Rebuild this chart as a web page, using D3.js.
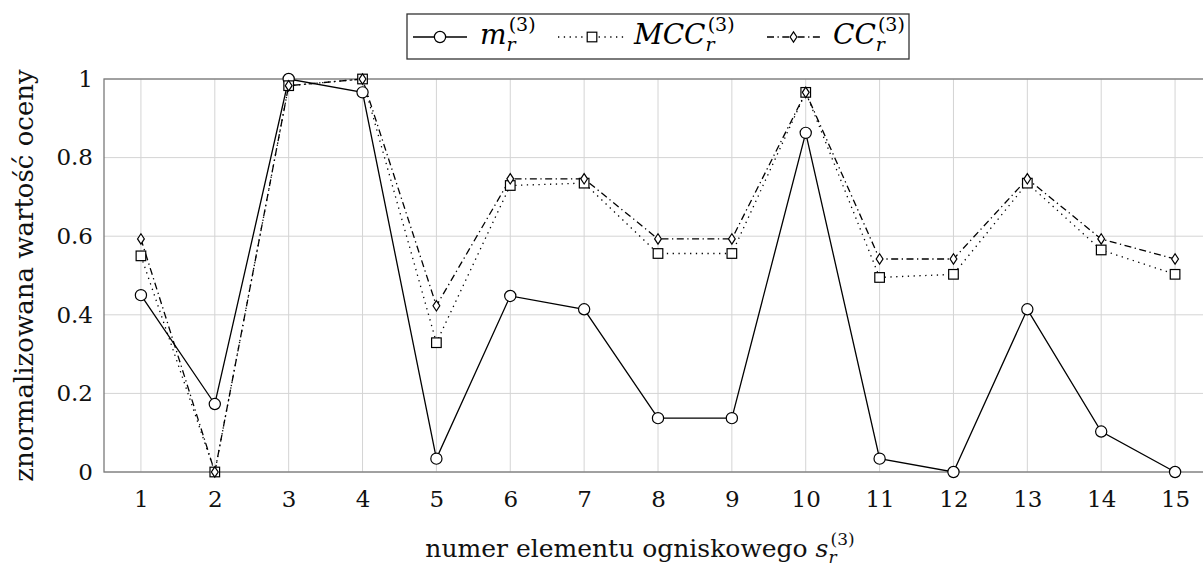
<!DOCTYPE html>
<html>
<head>
<meta charset="utf-8">
<script src="https://cdn.jsdelivr.net/npm/d3@7"></script>
<style>
  body { margin: 0; background: #fff; }
  svg { font-family: "DejaVu Serif", serif; }
</style>
</head>
<body>
<div id="chart"></div>
<script>
const elements = [1, 2, 3, 4, 5, 6, 7, 8, 9, 10, 11, 12, 13, 14, 15];
const mValues   = [0.45, 0.173, 1.0, 0.966, 0.034, 0.448, 0.414, 0.137, 0.137, 0.863, 0.034, 0.0, 0.414, 0.103, 0.0];
const mccValues = [0.55, 0.0, 0.983, 1.0, 0.329, 0.729, 0.735, 0.556, 0.556, 0.966, 0.495, 0.503, 0.735, 0.565, 0.503];
const ccValues  = [0.593, 0.0, 0.983, 1.0, 0.423, 0.746, 0.746, 0.593, 0.593, 0.966, 0.542, 0.542, 0.746, 0.593, 0.542];
const yTicks = [0, 0.2, 0.4, 0.6, 0.8, 1];

const W = 1203, H = 566;
const margin = {top: 79, right: -9, bottom: 94, left: 104};
const width = W - margin.left - margin.right;
const height = H - margin.top - margin.bottom;

const svg = d3.select("#chart").append("svg")
  .attr("width", W).attr("height", H);

const x = d3.scaleLinear().domain([0.5, 15.5]).range([0, width]);
const y = d3.scaleLinear().domain([0, 1]).range([height, 0]);

const g = svg.append("g").attr("transform", "translate(" + margin.left + "," + margin.top + ")");

// grid
g.append("g").selectAll("line").data(elements).join("line")
  .attr("x1", d => x(d)).attr("x2", d => x(d))
  .attr("y1", 0).attr("y2", height)
  .attr("stroke", "#d4d4d4").attr("stroke-width", 1);
g.append("g").selectAll("line").data(yTicks).join("line")
  .attr("x1", 0).attr("x2", width)
  .attr("y1", d => y(d)).attr("y2", d => y(d))
  .attr("stroke", "#d4d4d4").attr("stroke-width", 1);

// frame
g.append("rect").attr("x", 0).attr("y", 0).attr("width", width).attr("height", height)
  .attr("fill", "none").attr("stroke", "#7a7a7a").attr("stroke-width", 1.3);

// axes
const xAxis = d3.axisBottom(x).tickValues(elements).tickSize(0).tickPadding(19).tickFormat(d3.format("d"));
const yAxis = d3.axisLeft(y).tickValues(yTicks).tickSize(0).tickPadding(11).tickFormat(d => d === 0 || d === 1 ? d : d3.format(".1f")(d));

g.append("g").attr("transform", "translate(0," + height + ")").call(xAxis)
  .call(s => s.select(".domain").remove())
  .selectAll("text").attr("font-size", 23).attr("font-family", "DejaVu Serif").attr("fill", "#111");
g.append("g").call(yAxis)
  .call(s => s.select(".domain").remove())
  .selectAll("text").attr("font-size", 23).attr("font-family", "DejaVu Serif").attr("fill", "#111");

// series
const series = [
  {values: mValues, dash: null, marker: "circle"},
  {values: mccValues, dash: "1.3,4.5", marker: "square"},
  {values: ccValues, dash: "7,3.5,1.3,3.5", marker: "diamond"}
];

const line = d3.line().x((d, i) => x(elements[i])).y(d => y(d));

function drawMarker(sel, type) {
  if (type === "circle") {
    sel.append("circle").attr("r", 5.6);
  } else if (type === "square") {
    sel.append("rect").attr("x", -4.8).attr("y", -4.8).attr("width", 9.6).attr("height", 9.6);
  } else {
    sel.append("path").attr("d", "M0,-5.2L3.4,0L0,5.2L-3.4,0Z");
  }
  sel.selectAll("*").attr("fill", "#fff").attr("stroke", "#000").attr("stroke-width", 1.2);
}

series.forEach(s => {
  g.append("path").attr("d", line(s.values))
    .attr("fill", "none").attr("stroke", "#000").attr("stroke-width", 1.3)
    .attr("stroke-dasharray", s.dash);
});
series.forEach(s => {
  g.append("g").selectAll("g").data(s.values).join("g")
    .attr("transform", (d, i) => "translate(" + x(elements[i]) + "," + y(d) + ")")
    .each(function() { drawMarker(d3.select(this), s.marker); });
});

// axis titles
svg.append("text")
  .attr("transform", "translate(33," + (margin.top + height / 2) + ") rotate(-90)")
  .attr("text-anchor", "middle").attr("font-size", 26).attr("fill", "#111")
  .text("znormalizowana wartość oceny");

const xt = svg.append("text")
  .attr("x", 640).attr("y", 557)
  .attr("text-anchor", "middle").attr("font-size", 25).attr("fill", "#111");
xt.append("tspan").text("numer elementu ogniskowego ");
xt.append("tspan").attr("font-style", "italic").text("s");
xt.append("tspan").attr("font-style", "italic").attr("font-size", 17).attr("dy", 6).text("r");
xt.append("tspan").attr("font-size", 17).attr("dx", -6).attr("dy", -18).text("(3)");

// legend
const legend = svg.append("g");
legend.append("rect").attr("x", 407).attr("y", 14).attr("width", 502).attr("height", 45)
  .attr("fill", "#fff").attr("stroke", "#333").attr("stroke-width", 1.3);

const legendItems = [
  {x0: 413, x1: 467, tx: 480, label: "m", marker: "circle", dash: null},
  {x0: 558, x1: 626, tx: 634, label: "MCC", marker: "square", dash: "1.3,4.5"},
  {x0: 767, x1: 820, tx: 833, label: "CC", marker: "diamond", dash: "7,3.5,1.3,3.5"}
];
legendItems.forEach(it => {
  legend.append("line").attr("x1", it.x0).attr("x2", it.x1).attr("y1", 37).attr("y2", 37)
    .attr("stroke", "#000").attr("stroke-width", 1.3).attr("stroke-dasharray", it.dash);
  const mk = legend.append("g").attr("transform", "translate(" + ((it.x0 + it.x1) / 2) + ",37)");
  drawMarker(mk, it.marker);
  const t = legend.append("text").attr("x", it.tx).attr("y", 44).attr("font-size", 28).attr("fill", "#000");
  t.append("tspan").attr("font-style", "italic").text(it.label);
  t.append("tspan").attr("font-style", "italic").attr("font-size", 19).attr("dy", 7).text("r");
  t.append("tspan").attr("font-size", 19).attr("dx", -7).attr("dy", -20).text("(3)");
});
</script>
</body>
</html>
